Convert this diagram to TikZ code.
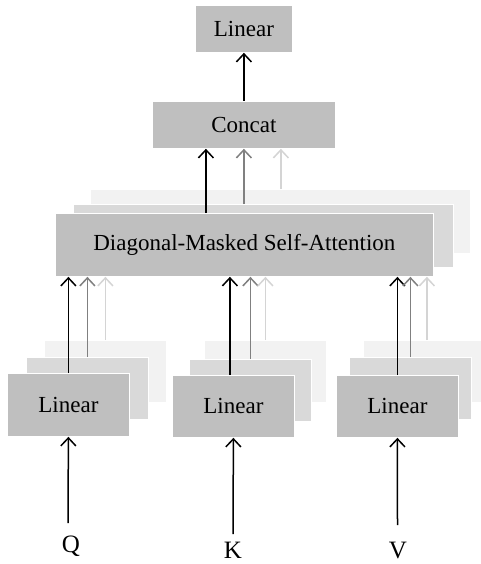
\documentclass[tikz,border=0pt]{standalone}
\usepackage{fontspec}
\setmainfont{Liberation Serif}
\usetikzlibrary{arrows.meta}
\definecolor{front}{RGB}{191,191,191}
\definecolor{mid}{RGB}{217,217,217}
\definecolor{back}{RGB}{242,242,242}
\definecolor{arrmid}{RGB}{128,128,128}
\definecolor{arrlight}{RGB}{212,212,212}
\begin{document}
\begin{tikzpicture}[x=1pt,y=-1pt,
 box/.style={rectangle, draw=white, line width=0.8pt, inner sep=0pt, anchor=north west, font=\fontsize{23}{27}\selectfont},
 lone/.style={box, fill=front},
 ltwo/.style={box, fill=mid},
 lthree/.style={box, fill=back},
 arr/.style={-{Straight Barb[length=8pt,width=15pt]}, line width=1.5pt},
 lbl/.style={font=\fontsize{25}{29}\selectfont, anchor=base, inner sep=0pt}]
\useasboundingbox (0,0) rectangle (481,564);
\fill[white] (0,0) rectangle (481,564);

% top
\node[lone, minimum width=97pt, minimum height=47pt] (lin) at (195,5) {Linear};
\node[lone, minimum width=183pt, minimum height=47pt] (concat) at (152,101) {Concat};

% attention stack
\node[lthree, minimum width=380pt, minimum height=64pt] (mha3) at (90,189) {};
\node[ltwo, minimum width=380pt, minimum height=63pt] (mha2) at (73,204) {};
\node[lone, minimum width=378pt, minimum height=63pt] (mha1) at (55,213) {Diagonal-Masked Self-Attention};

% Q stack
\node[lthree, minimum width=122pt, minimum height=62pt] (q3) at (44,340) {};
\node[ltwo, minimum width=122pt, minimum height=62pt] (q2) at (26,357) {};
\node[lone, minimum width=122pt, minimum height=63pt] (q1) at (7,373) {Linear};
% K stack
\node[lthree, minimum width=122pt, minimum height=62pt] (k3) at (204,340) {};
\node[ltwo, minimum width=122pt, minimum height=62pt] (k2) at (189,359) {};
\node[lone, minimum width=122pt, minimum height=62pt] (k1) at (172,375) {Linear};
% V stack
\node[lthree, minimum width=122pt, minimum height=62pt] (v3) at (363,340) {};
\node[ltwo, minimum width=122pt, minimum height=62pt] (v2) at (349,357) {};
\node[lone, minimum width=122pt, minimum height=62pt] (v1) at (336,375) {Linear};

% arrows into attention
\draw[arr] (q1.north) -- (q1.north |- mha1.south);
\draw[arr, arrmid] (q2.north) -- (q2.north |- mha1.south);
\draw[arr, arrlight] (q3.north) -- (q3.north |- mha1.south);
\coordinate (kb) at ([xshift=-3.5pt]k1.north);
\draw[arr] (kb) -- (kb |- mha1.south);
\draw[arr, arrmid] (k2.north) -- (k2.north |- mha1.south);
\draw[arr, arrlight] (k3.north) -- (k3.north |- mha1.south);
\draw[arr] (v1.north) -- (v1.north |- mha1.south);
\draw[arr, arrmid] (v2.north) -- (v2.north |- mha1.south);
\coordinate (vl) at ([xshift=2.5pt]v3.north);
\draw[arr, arrlight] (vl) -- (vl |- mha1.south);

% arrows into concat
\coordinate (cb) at ([xshift=-38pt]concat.south);
\coordinate (cl) at ([xshift=37pt]concat.south);
\draw[arr] (cb |- mha1.north) -- (cb);
\draw[arr, arrmid] (concat.south |- mha2.north) -- (concat.south);
\draw[arr, arrlight] (cl |- mha3.north) -- (cl);
\draw[arr] (concat.north) -- (lin.south);

% inputs
\node[lbl] (Q) at (71,552) {Q};
\node[lbl] (K) at (233,558) {K};
\node[lbl] (V) at (398,558) {V};
\coordinate (qs) at (68,523);
\coordinate (ks) at (233,534);
\coordinate (vs) at (397.5,525);
\draw[arr] (qs) -- (q1.south);
\draw[arr] (ks) -- (k1.south);
\draw[arr] (vs) -- (v1.south);
\end{tikzpicture}
\end{document}
